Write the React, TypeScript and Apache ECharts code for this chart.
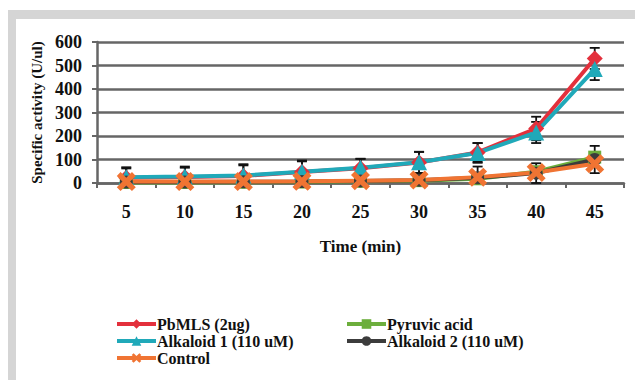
import React, { useEffect, useRef } from "react";
import * as echarts from "echarts";

const categories = ["5", "10", "15", "20", "25", "30", "35", "40", "45"];
const pbmls = [22, 25, 30, 47, 63, 87, 130, 232, 530];
const pyruvic = [2, 2, 3, 4, 7, 10, 18, 48, 110];
const alkaloid1 = [25, 28, 32, 48, 65, 88, 128, 215, 485];
const alkaloid2 = [4, 4, 5, 6, 9, 12, 22, 42, 100];
const control = [6, 6, 6, 7, 10, 13, 25, 45, 82];
const pbmlsErr = [40, 40, 45, 45, 40, 45, 40, 50, 45];
const alkaloid1Err = [42, 42, 48, 48, 38, 45, 42, 45, 47];
const alkaloid2Err = [5, 5, 5, 5, 5, 8, 48, 42, 58];
const yTicks = [0, 100, 200, 300, 400, 500, 600];

const FONT = "Liberation Serif";
const XPATH = "path://M0,2 L2,0 L5,3 L8,0 L10,2 L7,5 L10,8 L8,10 L5,7 L2,10 L0,8 L3,5 Z";

function errData(vals: number[], errs: number[]) {
  return vals.map((v, i) => [i, v, errs[i]]);
}

function renderErr(params: any, api: any) {
  const x = api.value(0);
  const v = api.value(1);
  const e = api.value(2);
  const top = api.coord([x, v + e]);
  const bot = api.coord([x, Math.max(0, v - e)]);
  const cw = 5;
  const style = { stroke: "#111", lineWidth: 1.8 };
  return {
    type: "group",
    children: [
      { type: "line", shape: { x1: top[0], y1: top[1], x2: bot[0], y2: bot[1] }, style },
      { type: "line", shape: { x1: top[0] - cw, y1: top[1], x2: top[0] + cw, y2: top[1] }, style },
      { type: "line", shape: { x1: bot[0] - cw, y1: bot[1], x2: bot[0] + cw, y2: bot[1] }, style },
    ],
  };
}

export default function App() {
  const ref = useRef<HTMLDivElement>(null);
  useEffect(() => {
    if (!ref.current) return;
    const chart = echarts.init(ref.current, null, { renderer: "svg" });
    const lineSeries = (name: string, data: number[], color: string, symbol: string, size: number) => ({
      name,
      type: "line",
      data,
      symbol,
      symbolSize: size,
      clip: false,
      z: 3,
      lineStyle: { color, width: 4 },
      itemStyle: { color, borderColor: color, borderWidth: 0 },
    });
    const legendCommon = {
      orient: "vertical",
      itemWidth: 39,
      itemHeight: 12,
      itemGap: 1,
      selectedMode: false,
      lineStyle: { width: 4 },
      textStyle: {
        fontFamily: FONT,
        fontWeight: "bold",
        fontSize: 16,
        lineHeight: 16,
        color: "#111",
        padding: [0, 0, 0, -4],
      },
    };
    chart.setOption({
      animation: false,
      backgroundColor: "#ffffff",
      graphic: [
        { type: "rect", shape: { x: 8, y: 10, width: 627, height: 9 }, style: { fill: "#d5d5d5" }, z: -10 },
        { type: "rect", shape: { x: 8, y: 10, width: 8, height: 370 }, style: { fill: "#d5d5d5" }, z: -10 },
      ],
      grid: { left: 97, right: 11, top: 42, bottom: 197 },
      legend: [
        { ...legendCommon, left: 110, top: 311, data: ["PbMLS (2ug)", "Alkaloid 1 (110 uM)", "Control"] },
        { ...legendCommon, left: 340, top: 311, data: ["Pyruvic acid", "Alkaloid 2 (110 uM)"] },
      ],
      xAxis: {
        type: "category",
        data: categories,
        boundaryGap: true,
        name: "Time (min)",
        nameLocation: "middle",
        nameGap: 55,
        nameTextStyle: { fontFamily: FONT, fontWeight: "bold", fontSize: 17, color: "#111" },
        axisLine: { lineStyle: { color: "#666", width: 2.5 } },
        axisTick: { show: true, length: 5, lineStyle: { color: "#666", width: 2 } },
        axisLabel: { fontFamily: FONT, fontWeight: "bold", fontSize: 18, color: "#111", margin: 20 },
        splitLine: { show: false },
      },
      yAxis: {
        type: "value",
        min: yTicks[0],
        max: yTicks[yTicks.length - 1],
        interval: 100,
        name: "Specific activity (U/ul)",
        nameLocation: "middle",
        nameGap: 50,
        nameTextStyle: { fontFamily: FONT, fontWeight: "bold", fontSize: 15, color: "#111" },
        axisLine: { show: true, lineStyle: { color: "#666", width: 2.5 } },
        axisTick: { show: true, length: 5, lineStyle: { color: "#666", width: 2 } },
        axisLabel: { fontFamily: FONT, fontWeight: "bold", fontSize: 18, color: "#111", margin: 15 },
        splitLine: { lineStyle: { color: "#666", width: 2.5 } },
      },
      series: [
        { type: "custom", name: "errPb", renderItem: renderErr, data: errData(pbmls, pbmlsErr), z: 2, clip: false },
        { type: "custom", name: "errA1", renderItem: renderErr, data: errData(alkaloid1, alkaloid1Err), z: 2, clip: false },
        { type: "custom", name: "errA2", renderItem: renderErr, data: errData(alkaloid2, alkaloid2Err), z: 2, clip: false },
        lineSeries("PbMLS (2ug)", pbmls, "#e3303c", "diamond", 16),
        lineSeries("Pyruvic acid", pyruvic, "#6cae3c", "rect", 13),
        lineSeries("Alkaloid 1 (110 uM)", alkaloid1, "#20a9b9", "triangle", 16),
        lineSeries("Alkaloid 2 (110 uM)", alkaloid2, "#3c3c3c", "circle", 13),
        lineSeries("Control", control, "#f07433", XPATH, 19),
      ],
    });
    return () => chart.dispose();
  }, []);
  return <div ref={ref} style={{ position: "fixed", left: 0, top: 0, width: 635, height: 380 }} />;
}
